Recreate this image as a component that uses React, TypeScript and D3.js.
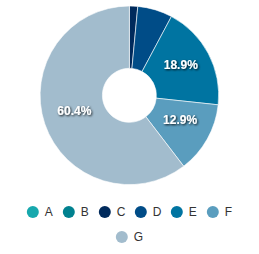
import { useEffect, useRef } from "react";
import * as d3 from "d3";

const categories = ["A", "B", "C", "D", "E", "F", "G"];
const values = [0, 0, 1.5, 6.3, 18.9, 12.9, 60.4];
const colors = ["#17a8ad", "#00818f", "#002a5c", "#004c87", "#0074a1", "#5a9dbe", "#a2bccd"];

const width = 259;
const height = 254;

export default function App() {
  const svgRef = useRef<SVGSVGElement>(null);

  useEffect(() => {
    if (!svgRef.current) return;
    const svg = d3.select(svgRef.current);
    svg.selectAll("*").remove();

    const cx = 129.4;
    const cy = 95.3;
    const outer = 89.3;
    const inner = 27;

    const defs = svg.append("defs");
    const filter = defs
      .append("filter")
      .attr("id", "shadow")
      .attr("x", "-20%")
      .attr("y", "-40%")
      .attr("width", "140%")
      .attr("height", "180%");
    filter
      .append("feDropShadow")
      .attr("dx", 1)
      .attr("dy", 1)
      .attr("stdDeviation", 0.9)
      .attr("flood-color", "#000")
      .attr("flood-opacity", 0.9);

    const data = categories.map((c, i) => ({ name: c, value: values[i], color: colors[i] }));
    type Datum = (typeof data)[number];
    const pie = d3
      .pie<Datum>()
      .value((d) => d.value)
      .sort(null);
    const arc = d3.arc<d3.PieArcDatum<Datum>>().innerRadius(inner).outerRadius(outer);

    const arcs = pie(data);
    const g = svg.append("g").attr("transform", `translate(${cx},${cy})`);

    g.selectAll("path")
      .data(arcs.filter((d) => d.data.value > 0))
      .enter()
      .append("path")
      .attr("d", arc)
      .attr("fill", (d) => d.data.color)
      .attr("stroke", "#fff")
      .attr("stroke-width", 0.6);

    // data labels (only the big slices get one)
    g.selectAll(".label")
      .data(arcs.filter((d) => d.data.value >= 10))
      .enter()
      .append("text")
      .attr("class", "label")
      .attr("transform", (d) => {
        const [x, y] = arc.centroid(d);
        return `translate(${x},${y - 3.5})`;
      })
      .attr("text-anchor", "middle")
      .attr("dy", "0.35em")
      .attr("filter", "url(#shadow)")
      .style("fill", "#fff")
      .style("font-family", "Arial, 'Liberation Sans', sans-serif")
      .style("font-size", "12px")
      .style("font-weight", "bold")
      .text((d) => `${d.data.value.toFixed(1)}%`);

    // Legend
    const rows = [categories.slice(0, 6), categories.slice(6)];
    const itemW = 36;
    const r = 6;
    const textOff = 12;
    rows.forEach((row, ri) => {
      const y = 212 + ri * 25;
      const lg = svg.append("g");
      row.forEach((name, j) => {
        const idx = categories.indexOf(name);
        const x = j * itemW;
        const item = lg.append("g").attr("transform", `translate(${x},${y})`);
        item.append("circle").attr("cx", 0).attr("cy", 0).attr("r", r).attr("fill", colors[idx]);
        item
          .append("text")
          .attr("x", textOff)
          .attr("y", 0)
          .attr("dy", "0.35em")
          .style("fill", "#333")
          .style("font-family", "Arial, 'Liberation Sans', sans-serif")
          .style("font-size", "12px")
          .text(name);
      });
      const bb = (lg.node() as SVGGElement).getBBox();
      lg.attr("transform", `translate(${width / 2 - (bb.x + bb.width / 2)},0)`);
    });
  }, []);

  return <svg ref={svgRef} width={width} height={height} style={{ position: "absolute", left: 0, top: 0 }} />;
}
